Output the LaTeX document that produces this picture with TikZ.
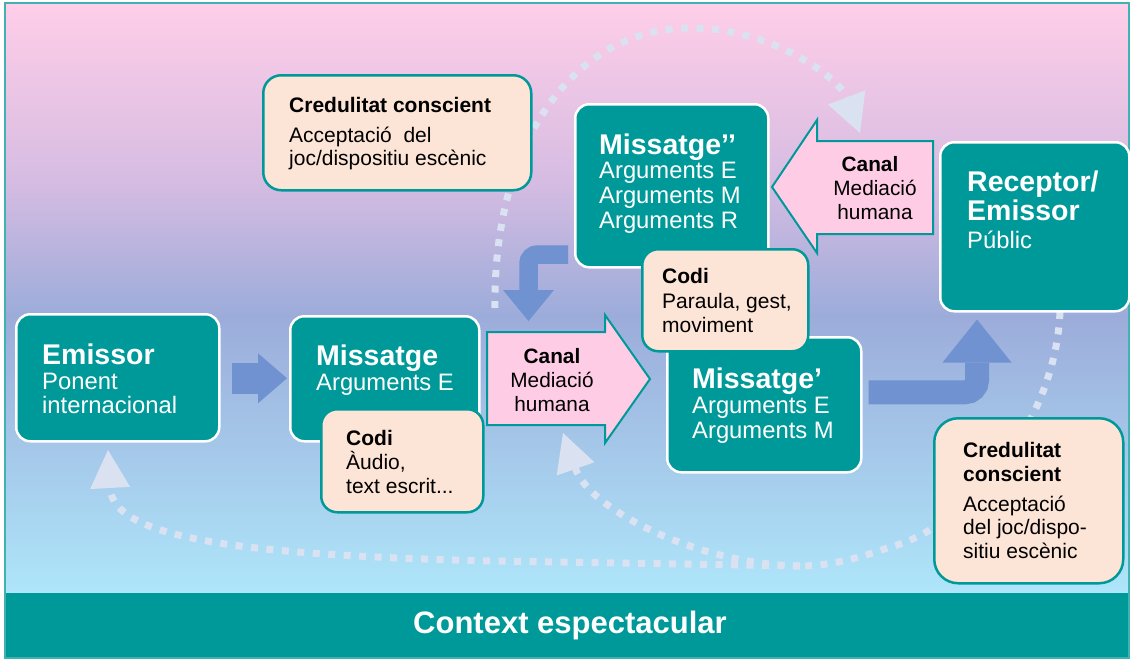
\documentclass[tikz,border=0pt]{standalone}
\usepackage{fontspec}
\setmainfont{Liberation Sans}
\usetikzlibrary{arrows.meta,calc}
\definecolor{teal0}{RGB}{0,153,153}
\definecolor{peach}{RGB}{252,229,214}
\definecolor{pinkc}{RGB}{255,204,230}
\definecolor{bluec}{RGB}{112,146,208}
\definecolor{dotc}{RGB}{218,226,242}
\definecolor{bgA}{RGB}{255,206,232}
\definecolor{bgB}{RGB}{214,188,226}
\definecolor{bgC}{RGB}{156,172,218}
\definecolor{bgD}{RGB}{174,230,250}
\begin{document}
\begin{tikzpicture}[x=1pt,y=-1pt,
  tealbox/.style={draw=white, fill=teal0, line width=2.5pt, rounded corners=14pt, anchor=north west, inner sep=0pt},
  peachbox/.style={draw=teal0, fill=peach, line width=2.5pt, anchor=north west, inner sep=0pt},
  canalshape/.style={draw=teal0, fill=pinkc, line width=2pt, line join=miter},
  ttl/.style={font=\bfseries\fontsize{28.5}{29}\selectfont, text=white, anchor=base west, inner sep=0pt},
  sub/.style={font=\fontsize{23.8}{24.5}\selectfont, text=white, anchor=base west, inner sep=0pt},
  btitle/.style={font=\bfseries\fontsize{21}{24}\selectfont, anchor=base west, inner sep=0pt},
  body/.style={font=\fontsize{21}{24}\selectfont, anchor=base west, inner sep=0pt},
  ctitle/.style={font=\bfseries\fontsize{20.8}{24}\selectfont, anchor=base, inner sep=0pt},
  cbody/.style={font=\fontsize{20.8}{24}\selectfont, anchor=base, inner sep=0pt},
  dots/.style={draw=dotc, line width=7pt, dash pattern=on 7pt off 8.5pt},
  dtip/.style={-{Triangle[length=38pt,width=40pt,line width=0pt,fill=dotc]}},
  blockarrow/.style={draw=bluec, line cap=butt}
]
\useasboundingbox (0,0) rectangle (1130,659);
\fill[white] (0,0) rectangle (1130,659);
% background
\shade[top color=bgA, bottom color=bgB] (5,3) rectangle (1129,181);
\shade[top color=bgB, bottom color=bgC] (5,180) rectangle (1129,316);
\shade[top color=bgC, bottom color=bgD] (5,315) rectangle (1129,594);
\fill[teal0] (5,593) rectangle (1130,659);
\draw[teal0!75!white, line width=1.5pt] (5,3) rectangle (1129,658);
\node[font=\bfseries\fontsize{31}{31}\selectfont, text=white, anchor=base, inner sep=0pt] (ctx) at (570,633) {Context espectacular};

% dotted loops
\coordinate (dA) at (495,308);
\coordinate (dAend) at (860,133);
\coordinate (dB) at (1060,312);
\coordinate (dM) at (800,566);
\coordinate (dL) at (108,450);
\coordinate (dR) at (563,433);
\draw[dots, dtip] (dA) .. controls (493,140) and (575,28) .. (690,28) .. controls (775,28) and (840,80) .. (dAend);
\draw[dots] (dB) .. controls (1055,430) and (960,530) .. (890,547) .. controls (860,558) and (830,566) .. (dM);
\draw[dots, dtip] (dM) -- (490,561) .. controls (250,555) and (113,540) .. (dL);
\draw[dots, dtip] (dM) .. controls (700,565) and (590,510) .. (dR);

% canal arrows
\draw[canalshape] (487,332) -- (605,332) -- (605,315) -- (650,379) -- (605,443) -- (605,425) -- (487,425) -- cycle;
\draw[canalshape] (933,141) -- (817,141) -- (817,120) -- (772,187) -- (817,253) -- (817,234) -- (933,234) -- cycle;
\node[ctitle] (canal1) at (552,363) {Canal};
\node[cbody] (canal1b) at (552,387) {Mediació};
\node[cbody] (canal1c) at (552,411) {humana};
\node[ctitle] (canal2) at (870,171) {Canal};
\node[cbody] (canal2b) at (875,195) {Mediació};
\node[cbody] (canal2c) at (875,219) {humana};

% teal boxes
\node[tealbox, minimum width=203pt, minimum height=127pt] (emissor) at (15,313) {};
\node[ttl] (emissorT) at (42,364) {Emissor};
\node[sub] (emissorS1) at (42,389) {Ponent};
\node[sub] (emissorS2) at (42,413) {internacional};

\node[tealbox, minimum width=189pt, minimum height=125pt] (missatge) at (289,315) {};
\node[ttl] (missatgeT) at (316,365) {Missatge};
\node[sub] (missatgeS) at (316,390) {Arguments E};

\node[peachbox, rounded corners=16pt, minimum width=162pt, minimum height=103pt] (codi1) at (320,408) {};
\node[btitle] (codi1T) at (346,445) {Codi};
\node[body] (codi1S1) at (346,469) {Àudio,};
\node[body] (codi1S2) at (346,493) {text escrit...};

\node[tealbox, minimum width=193pt, minimum height=163pt] (msg2) at (574,103) {};
\node[ttl] (msg2T) at (599,154) {Missatge’’};
\node[sub] (msg2S1) at (599,178) {Arguments E};
\node[sub] (msg2S2) at (599,203) {Arguments M};
\node[sub] (msg2S3) at (599,228) {Arguments R};

\node[tealbox, minimum width=194pt, minimum height=135pt] (msg1) at (666,336) {};
\node[ttl] (msg1T) at (692,388) {Missatge’};
\node[sub] (msg1S1) at (692,413) {Arguments E};
\node[sub] (msg1S2) at (692,438) {Arguments M};

\node[peachbox, rounded corners=16pt, minimum width=166pt, minimum height=102pt] (codi2) at (641,248) {};
\node[btitle] (codi2T) at (662,283) {Codi};
\node[body] (codi2S1) at (662,308) {Paraula, gest,};
\node[body] (codi2S2) at (662,332) {moviment};

\node[tealbox, minimum width=189pt, minimum height=169pt] (receptor) at (939,141) {};
\node[ttl] (receptorT1) at (967,191) {Receptor/};
\node[ttl] (receptorT2) at (967,220) {Emissor};
\node[sub] (receptorS) at (967,248) {Públic};

\node[peachbox, rounded corners=18pt, minimum width=268pt, minimum height=115pt] (cred1) at (262,74) {};
\node[btitle] (cred1T) at (289,112) {Credulitat conscient};
\node[body] (cred1S1) at (289,142) {Acceptació\ \ del};
\node[body] (cred1S2) at (289,165) {joc/dispositiu escènic};

\node[peachbox, rounded corners=24pt, minimum width=189pt, minimum height=165pt] (cred2) at (933,417) {};
\node[btitle] (cred2T1) at (963,457) {Credulitat};
\node[btitle] (cred2T2) at (963,481) {conscient};
\node[body] (cred2S1) at (963,511) {Acceptació};
\node[body] (cred2S2) at (963,534) {del joc/dispo-};
\node[body] (cred2S3) at (963,558) {sitiu escènic};

% blue block arrows
\draw[blockarrow, line width=31pt, -{Triangle[length=29pt,width=50pt,line width=0pt,fill=bluec]}]
  ($(emissor.east)+(11,0.5)$) -- ($(missatge.west)+(-2,-0.5)$);
\coordinate (a2end) at (528.5,321);
\draw[blockarrow, line width=18.5pt, rounded corners=9pt, -{Triangle[length=31pt,width=51pt,line width=0pt,fill=bluec]}]
  ($(msg2.south west)+(-6,-14)$) -| (a2end);
\draw[blockarrow, line width=24pt, rounded corners=12pt, -{Triangle[length=43pt,width=69pt,line width=0pt,fill=bluec]}]
  ($(msg1.east)+(6,-12.5)$) -| ($(receptor.south west)+(38,7)$);
\end{tikzpicture}
\end{document}
